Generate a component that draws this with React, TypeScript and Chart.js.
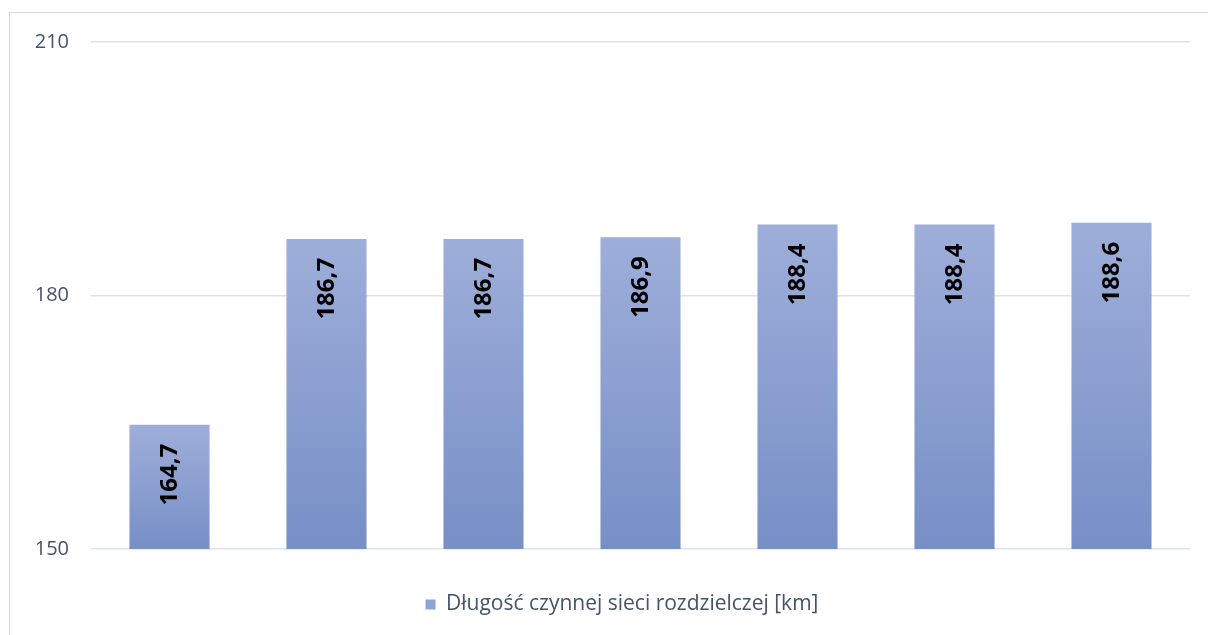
import React, { useEffect, useRef } from "react";
import { Chart, registerables } from "chart.js";

Chart.register(...registerables);

const categories: string[] = ["", "", "", "", "", "", ""];
const seriesLabel = "Długość czynnej sieci rozdzielczej [km]";
const seriesValues: number[] = [164.7, 186.7, 186.7, 186.9, 188.4, 188.4, 188.6];
const yTicks: number[] = [150, 180, 210];

const TOP_COLOR = "#9EAEDA";
const BOTTOM_COLOR = "#778FC6";
const LEGEND_COLOR = "#8FA2D4";
const TEXT_COLOR = "#44546A";
const GRID_COLOR = "#DEE2E9";
const LEGEND_SHIFT = 27;

const fmt = (v: number) => v.toFixed(1).replace(".", ",");

const labelPlugin = {
  id: "verticalLabels",
  afterLayout(chart: any) {
    const lg = chart.legend;
    if (lg) {
      lg.left += LEGEND_SHIFT;
      lg.right += LEGEND_SHIFT;
    }
  },
  afterDatasetsDraw(chart: any) {
    const ctx = chart.ctx;
    const meta = chart.getDatasetMeta(0);
    ctx.save();
    ctx.font = "bold 24px 'Open Sans'";
    ctx.fillStyle = "#000000";
    ctx.textAlign = "right";
    ctx.textBaseline = "middle";
    meta.data.forEach((bar: any, i: number) => {
      ctx.save();
      ctx.translate(bar.x + 1, bar.y + 19);
      ctx.rotate(-Math.PI / 2);
      ctx.fillText(fmt(seriesValues[i]), 0, 0);
      ctx.restore();
    });
    ctx.restore();
  },
};

export default function App() {
  const ref = useRef<HTMLCanvasElement | null>(null);

  useEffect(() => {
    if (!ref.current) return;
    const chart = new Chart(ref.current, {
      type: "bar",
      data: {
        labels: categories,
        datasets: [
          {
            label: seriesLabel,
            data: seriesValues,
            backgroundColor: (c: any) => {
              const ch = c.chart;
              const area = ch.chartArea;
              if (!area || c.raw == null) return LEGEND_COLOR;
              const y = ch.scales.y;
              const top = y.getPixelForValue(c.raw);
              const bottom = y.getPixelForValue(150);
              if (!isFinite(top) || !isFinite(bottom) || bottom - top < 1) return LEGEND_COLOR;
              const g = ch.ctx.createLinearGradient(0, top, 0, bottom);
              g.addColorStop(0, TOP_COLOR);
              g.addColorStop(1, BOTTOM_COLOR);
              return g;
            },
            borderWidth: 0,
            categoryPercentage: 1,
            barPercentage: 0.51,
          },
        ],
      },
      options: {
        animation: false,
        responsive: false,
        devicePixelRatio: 1,
        layout: { padding: { left: 0, right: 18, top: 42, bottom: 10 } },
        plugins: {
          tooltip: { enabled: false },
          legend: {
            position: "bottom",
            labels: {
              color: TEXT_COLOR,
              font: { family: "'Open Sans'", size: 21 },
              boxWidth: 10,
              boxHeight: 10,
              padding: 45,
              generateLabels: () => [
                {
                  text: seriesLabel,
                  fillStyle: LEGEND_COLOR,
                  strokeStyle: LEGEND_COLOR,
                  lineWidth: 0,
                  hidden: false,
                  datasetIndex: 0,
                  fontColor: TEXT_COLOR,
                },
              ],
            },
          },
        },
        scales: {
          x: {
            display: false,
            offset: true,
          },
          y: {
            min: 150,
            max: 210,
            afterFit: (s: any) => {
              s.width = 91;
            },
            afterBuildTicks: (s: any) => {
              s.ticks = yTicks.map((v) => ({ value: v }));
            },
            border: { display: false },
            grid: { color: GRID_COLOR, lineWidth: 1.5, drawTicks: false },
            ticks: {
              color: TEXT_COLOR,
              font: { family: "'Open Sans'", size: 20 },
              padding: 22,
            },
          },
        },
      },
      plugins: [labelPlugin],
    } as any);
    return () => chart.destroy();
  }, []);

  return (
    <div style={{ position: "fixed", left: 0, top: 0, width: 1208, height: 635, overflow: "hidden", background: "#fff" }}>
      <div
        style={{
          position: "absolute",
          left: 9,
          top: 12,
          width: 1300,
          height: 700,
          borderTop: "1px solid #D9D9D9",
          borderLeft: "1px solid #D9D9D9",
        }}
      />
      <canvas ref={ref} width={1208} height={635} style={{ position: "absolute", left: 0, top: 0 }} />
    </div>
  );
}
